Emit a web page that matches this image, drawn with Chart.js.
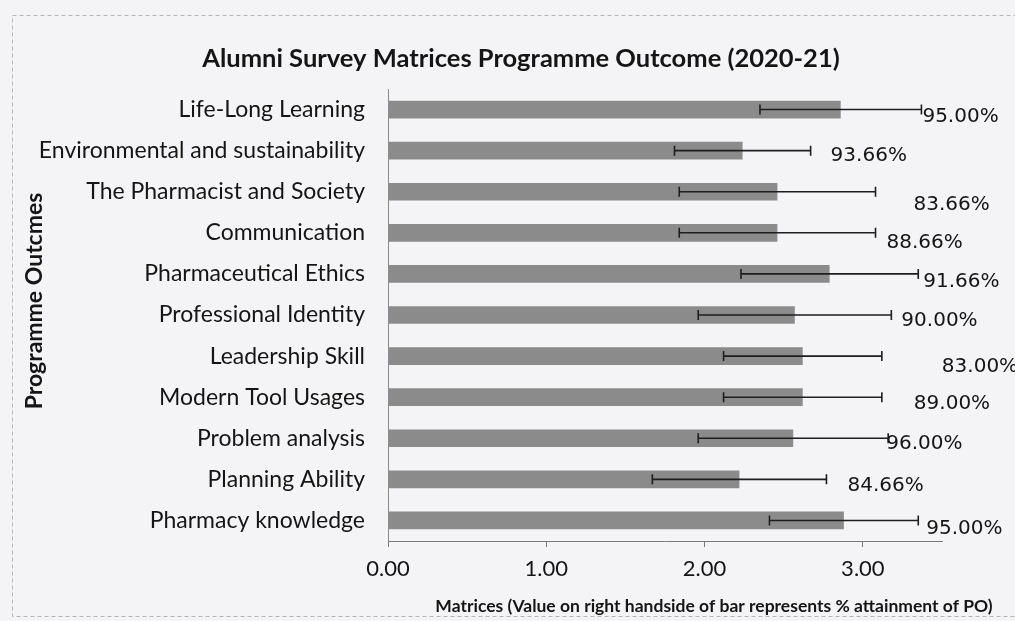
<!DOCTYPE html>
<html>
<head>
<meta charset="utf-8">
<title>Alumni Survey Matrices</title>
<script src="https://cdn.jsdelivr.net/npm/chart.js@4.4.1/dist/chart.umd.min.js"></script>
<style>
  html, body { margin: 0; padding: 0; background: #f4f3f6; }
  #wrap { width: 1015px; height: 621px; }
</style>
</head>
<body>
<div id="wrap"><canvas id="poChart" width="1015" height="621"></canvas></div>
<script>
// programme outcomes, top to bottom as in the chart
const outcomes = [
  "Life-Long Learning",
  "Environmental and sustainability",
  "The Pharmacist and Society",
  "Communication",
  "Pharmaceutical Ethics",
  "Professional Identity",
  "Leadership Skill",
  "Modern Tool Usages",
  "Problem analysis",
  "Planning Ability",
  "Pharmacy knowledge"
];
const matrices = [2.86, 2.24, 2.46, 2.46, 2.79, 2.57, 2.62, 2.62, 2.56, 2.22, 2.88];
const errorMargin = [0.51, 0.43, 0.62, 0.62, 0.56, 0.61, 0.50, 0.50, 0.60, 0.55, 0.47];
const attainment = ["95.00%", "93.66%", "83.66%", "88.66%", "91.66%", "90.00%",
                    "83.00%", "89.00%", "96.00%", "84.66%", "95.00%"];
const xTicks = [0, 1, 2, 3];

// the % labels were dragged by hand in the original, these are the nudges (px)
const labelNudgeX = [1, 20, 38, 11, 5, 10, 60, 32, -2, 21, 8];
const labelNudgeY = [7, 5, 13, 10, 8, 6, 11, 7, 6, 6, 8];

const ink = "#151515";

// error bars + % labels + the bits of text outside the scales
const extras = {
  id: "extras",
  beforeDraw(chart) {
    const ctx = chart.ctx;
    ctx.save();
    ctx.strokeStyle = "#b5b5b8";
    ctx.setLineDash([4, 3]);
    ctx.lineWidth = 1;
    ctx.strokeRect(12.5, 15.5, 1100, 601);
    ctx.restore();
  },
  afterDatasetsDraw(chart) {
    const ctx = chart.ctx;
    const x = chart.scales.x;
    const bars = chart.getDatasetMeta(0).data;
    ctx.save();
    ctx.strokeStyle = "#1e1e1e";
    ctx.lineWidth = 1.6;
    bars.forEach((bar, i) => {
      const lo = x.getPixelForValue(matrices[i] - errorMargin[i]);
      const hi = x.getPixelForValue(matrices[i] + errorMargin[i]);
      const y = bar.y;
      ctx.beginPath();
      ctx.moveTo(lo, y); ctx.lineTo(hi, y);
      ctx.moveTo(lo, y - 5); ctx.lineTo(lo, y + 5);
      ctx.moveTo(hi, y - 5); ctx.lineTo(hi, y + 5);
      ctx.stroke();

      ctx.fillStyle = ink;
      ctx.font = "20px 'DejaVu Sans'";
      ctx.textAlign = "left";
      ctx.textBaseline = "middle";
      ctx.fillText(attainment[i], hi + labelNudgeX[i], y + labelNudgeY[i]);
    });
    ctx.restore();
  },
  afterDraw(chart) {
    const ctx = chart.ctx;
    ctx.save();
    ctx.fillStyle = ink;
    ctx.textAlign = "center";
    ctx.textBaseline = "middle";
    ctx.font = "bold 25.5px Lato";
    ctx.fillText("Alumni Survey Matrices Programme Outcome (2020-21)", 521, 59);
    ctx.font = "bold 17.5px Lato";
    ctx.fillText("Matrices (Value on right handside of bar represents % attainment of PO)", 714, 606);
    // y axis title sits a bit above the middle of the plot in the original
    ctx.translate(35, 301);
    ctx.rotate(-Math.PI / 2);
    ctx.font = "bold 23px Lato";
    ctx.fillText("Programme Outcmes", 0, 0);
    ctx.restore();
  }
};

new Chart(document.getElementById("poChart"), {
  type: "bar",
  data: {
    labels: outcomes,
    datasets: [{
      data: matrices,
      backgroundColor: "#8b8b8c",
      borderWidth: 0,
      categoryPercentage: 1,
      barPercentage: 0.43
    }]
  },
  options: {
    indexAxis: "y",
    responsive: false,
    animation: false,
    layout: { padding: { top: 89, right: 73, bottom: 0, left: 0 } },
    plugins: {
      legend: { display: false },
      tooltip: { enabled: false }
    },
    scales: {
      x: {
        min: 0,
        max: 3.5,
        afterBuildTicks: (axis) => { axis.ticks = xTicks.map(v => ({ value: v })); },
        afterFit: (axis) => { axis.height = 80; },
        border: { display: true, color: "#7a7a7a", width: 1 },
        grid: { drawOnChartArea: false, drawTicks: true, tickLength: 6, color: "#7a7a7a" },
        ticks: {
          padding: 9,
          color: ink,
          font: { family: "Lato", size: 22 },
          callback: (v) => Number(v).toFixed(2)
        }
      },
      y: {
        afterFit: (axis) => { axis.width = 388; },
        border: { display: true, color: "#8a8a8a", width: 1 },
        grid: { display: false, drawTicks: false },
        ticks: {
          padding: 23,
          color: ink,
          font: { family: "Lato", size: 23 }
        }
      }
    }
  },
  plugins: [extras]
});
</script>
</body>
</html>
